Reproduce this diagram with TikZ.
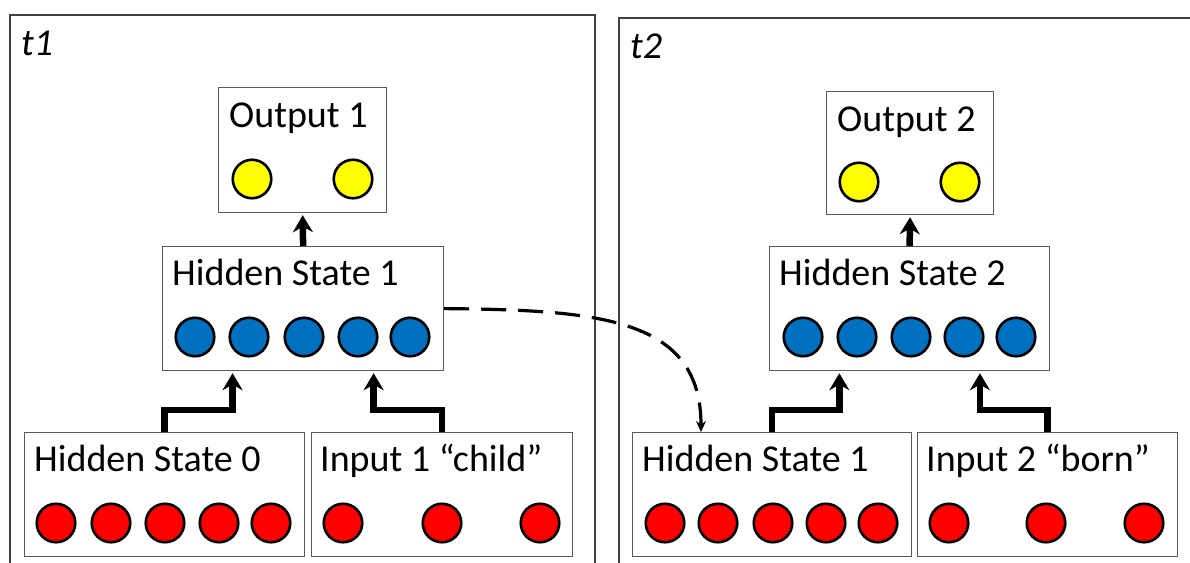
\documentclass[tikz,border=0pt]{standalone}
\usepackage{fontspec}
\setmainfont{Carlito}
\usetikzlibrary{arrows.meta,calc}

\definecolor{unitblue}{HTML}{0070C0}
\definecolor{unitred}{HTML}{FF0000}
\definecolor{unityellow}{HTML}{FFFF00}

\tikzset{
  panel/.style={draw=black!75,line width=1.4pt},
  layerbox/.style={draw=black!65,line width=1.2pt,fill=white,anchor=north west,inner sep=0pt},
  boxtext/.style={anchor=base west,inner sep=0pt,font=\fontsize{38}{42}\selectfont},
  steptext/.style={anchor=base west,inner sep=0pt,font=\fontsize{38}{42}\selectfont\itshape},
  unit/.style={circle,draw=black,line width=2.6pt,minimum size=38.5pt,inner sep=0pt},
  flow/.style={line width=6.5pt,-{Stealth[length=17pt,width=20pt]},shorten >=2pt},
  recur/.style={line width=3.2pt,dash pattern=on 25pt off 12pt,-{Stealth[length=11pt,width=10pt]}}
}

\begin{document}
\begin{tikzpicture}[x=1pt,y=-1pt]
  \useasboundingbox[fill=white] (0,0) rectangle (1190,562);

  % Time step frames
  \draw[panel] (10,580) |- (595,15) -- (595,580);
  \draw[panel] (619,580) |- (1200,18);
  \node[steptext] (t1) at (21,55) {t1};
  \node[steptext] (t2) at (630,58) {t2};

  % Boxes of t1
  \node[layerbox,minimum width=168pt,minimum height=125pt] (out1) at (218,87) {};
  \node[layerbox,minimum width=281pt,minimum height=124pt] (hs1) at (162,246) {};
  \node[layerbox,minimum width=280pt,minimum height=124pt] (hs0) at (24,432) {};
  \node[layerbox,minimum width=261pt,minimum height=124pt] (in1) at (311,432) {};

  % Boxes of t2
  \node[layerbox,minimum width=167pt,minimum height=123pt] (out2) at (826,91) {};
  \node[layerbox,minimum width=280pt,minimum height=124pt] (hs2) at (769,246) {};
  \node[layerbox,minimum width=279pt,minimum height=124pt] (hsb) at (632,432) {};
  \node[layerbox,minimum width=260pt,minimum height=124pt] (in2) at (917,432) {};

  % Box titles
  \node[boxtext] (out1t) at ([shift={(11,40)}]out1.north west) {Output 1};
  \node[boxtext] (hs1t) at ([shift={(10,39)}]hs1.north west) {Hidden State 1};
  \node[boxtext] (hs0t) at ([shift={(10,39)}]hs0.north west) {Hidden State 0};
  \node[boxtext] (in1t) at ([shift={(9,39)}]in1.north west) {Input 1 “child”};
  \node[boxtext] (out2t) at ([shift={(11,40)}]out2.north west) {Output 2};
  \node[boxtext] (hs2t) at ([shift={(10,39)}]hs2.north west) {Hidden State 2};
  \node[boxtext] (hsbt) at ([shift={(10,39)}]hsb.north west) {Hidden State 1};
  \node[boxtext] (in2t) at ([shift={(9,39)}]in2.north west) {Input 2 “born”};

  % Units
  \foreach \x in {252,353} \node[unit,fill=unityellow] (o1\x) at (\x,179) {};
  \foreach \x in {859,960} \node[unit,fill=unityellow] (o2\x) at (\x,182) {};
  \foreach \x in {195,249,304,358,410} \node[unit,fill=unitblue] (h1\x) at (\x,337) {};
  \foreach \x in {803,857,911,964,1016} \node[unit,fill=unitblue] (h2\x) at (\x,337) {};
  \foreach \x in {56,111,165,219,271} \node[unit,fill=unitred] (h0\x) at (\x,523) {};
  \foreach \x in {343,442,540} \node[unit,fill=unitred] (i1\x) at (\x,523) {};
  \foreach \x in {665,718,773,826,878} \node[unit,fill=unitred] (hb\x) at (\x,523) {};
  \foreach \x in {949,1046,1144} \node[unit,fill=unitred] (i2\x) at (\x,523) {};

  % Connections
  \draw[flow] (hs1.north) -- (out1.south);
  \draw[flow] (hs2.north) -- (out2.south);
  \draw[flow] (hs0.north) -- ++(0,-22) -| ($(hs1.south west)!.25!(hs1.south east)$);
  \draw[flow] (in1.north) -- ++(0,-22) -| ($(hs1.south west)!.75!(hs1.south east)$);
  \draw[flow] (hsb.north) -- ++(0,-22) -| ($(hs2.south west)!.25!(hs2.south east)$);
  \draw[flow] (in2.north) -- ++(0,-22) -| ($(hs2.south west)!.75!(hs2.south east)$);

  % Hidden state carried to t2
  \coordinate (carry) at ([xshift=69pt]hsb.north west);
  \draw[recur] (hs1.east) .. controls (600,310) and (701,318) .. (carry);
\end{tikzpicture}
\end{document}
